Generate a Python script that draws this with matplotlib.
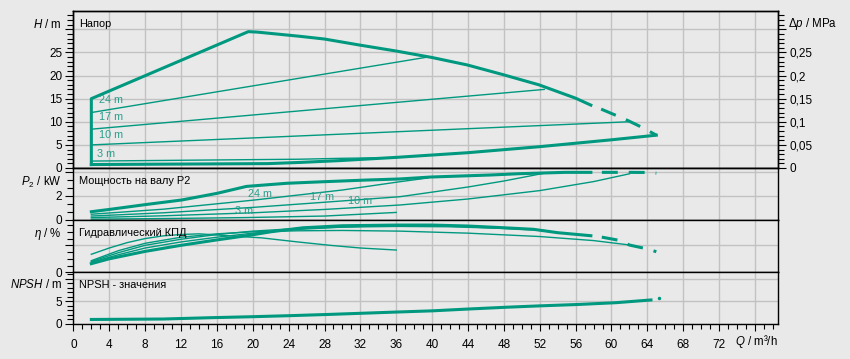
import numpy as np
import matplotlib.pyplot as plt
from matplotlib.ticker import MultipleLocator, FuncFormatter

# ---------------- data ----------------
# head H [m] vs Q [m3/h]
q_hmax = [2, 2, 19.5, 20.5, 25.2, 28, 31.9, 36, 40, 43.9, 47.9, 51.9, 56, 57.7]
h_hmax = [0.75, 15, 29.5, 29.4, 28.5, 27.9, 26.6, 25.3, 23.9, 22.3, 20.2, 18.0, 15.1, 13.6]
q_hmax_d = [57.7, 58.9, 60.6, 61.9, 63.5, 65]
h_hmax_d = [13.6, 12.7, 11.3, 10.2, 8.7, 7.1]
q_hmin = [2, 21.7, 25.2, 29.7, 36, 43.9, 51.9, 60, 65]
h_hmin = [0.75, 0.95, 1.2, 1.6, 2.3, 3.3, 4.6, 6.1, 7.1]
q_h24 = [2, 39.5]
h_h24 = [12, 24]
q_h17 = [2, 52.5]
h_h17 = [8.4, 17]
q_h10 = [2, 61.9]
h_h10 = [5, 10]
q_h3 = [2, 25.2, 30, 36]
h_h3 = [1.5, 1.9, 2.1, 2.25]

# shaft power P2 [kW]
q_pmax = [2, 4.1, 8.2, 12.1, 16, 19.3, 23.8, 27.9, 32.7, 36.4, 39.8, 46.5, 49.8, 54.8, 57.7]
p_pmax = [0.69, 0.89, 1.3, 1.67, 2.22, 2.8, 3.06, 3.19, 3.33, 3.42, 3.58, 3.75, 3.86, 3.97, 3.97]
q_pmax_d = [57.7, 60, 62, 64, 65]
p_pmax_d = [3.97, 3.97, 3.97, 3.96, 3.9]
q_p24 = [2, 10, 20, 30, 36.4, 39.5]
p_p24 = [0.48, 0.9, 1.65, 2.5, 3.19, 3.5]
q_p17 = [2, 10, 20, 28, 36.4, 44, 48, 52.5]
p_p17 = [0.33, 0.6, 1.05, 1.48, 1.94, 2.75, 3.25, 3.9]
q_p10 = [2, 10, 20, 28, 36.4, 44, 52, 58, 62]
p_p10 = [0.2, 0.35, 0.6, 0.88, 1.25, 1.75, 2.45, 3.2, 3.85]
q_p3 = [2, 10, 19, 28, 36]
p_p3 = [0.07, 0.12, 0.2, 0.33, 0.63]

# hydraulic efficiency [%]
q_emax = [2, 4, 8, 12, 16, 19.7, 22, 25.6, 30, 36, 40, 44, 48, 51.3, 54, 57.7]
e_emax = [12.8, 20, 31, 40, 48, 55, 60, 66, 69, 70, 70, 68.6, 66, 63.7, 58.7, 54.2]
q_emax_d = [57.7, 59, 61, 62, 64, 65]
e_emax_d = [54.2, 51.9, 47, 40.4, 34.6, 30.5]
q_e24 = [2, 5, 8, 12, 16, 20, 25, 30, 35, 39.5]
e_e24 = [14.8, 26, 36, 45, 52, 58, 63.5, 67, 69.5, 70]
q_e17 = [2, 5, 8, 12, 16, 20, 25, 30, 36, 42, 48, 52.5]
e_e17 = [16, 29, 40, 49, 56, 61, 65, 67, 68, 67.5, 65, 62]
q_e10 = [2, 5, 8, 12, 16, 20, 25, 30, 36.4, 44, 52, 58, 62]
e_e10 = [17.2, 32, 43, 52, 57, 60, 61.5, 62, 61, 58, 53, 47, 40.5]
q_e3 = [2, 4, 6, 8, 10, 12, 14, 17.5, 21, 25, 28.6, 32, 36]
e_e3 = [26.7, 36, 44, 50, 54, 56, 57, 54, 51, 45, 40, 36, 33]

# NPSH [m]
q_npsh = [2, 10, 15.5, 19.8, 24, 28.3, 31.9, 36.2, 40, 44, 48.3, 52, 56.2, 60.5, 64.4]
n_npsh = [1.0, 1.1, 1.4, 1.6, 1.83, 2.1, 2.35, 2.65, 2.9, 3.3, 3.7, 4.0, 4.3, 4.7, 5.3]
q_npsh_end = [65.3]
n_npsh_end = [5.65]

# ---------------- style ----------------
BG = "#e9e9e9"
GRID = "#c2c2c2"
CRV = "#00997f"
LBL = "#2a9e8b"

plt.rcParams['font.family'] = ['Liberation Sans', 'DejaVu Sans']
plt.rcParams['mathtext.fontset'] = 'custom'
plt.rcParams['mathtext.it'] = 'Liberation Sans:italic'
plt.rcParams['mathtext.rm'] = 'Liberation Sans'

W_PX, H_PX = 850, 359
fig = plt.figure(figsize=(8.5, 3.59), dpi=100, facecolor=BG)


def px(x, y):
    return x / W_PX, 1 - y / H_PX


def fmt_upto(top, comma=False):
    def f(v, pos):
        if v > top + 1e-6:
            return ""
        s = f"{v:g}"
        return s.replace(".", ",") if comma else s
    return FuncFormatter(f)


left, right = 73.4, 778.3
panels = [(11.3, 168.0), (168.0, 220.0), (220.0, 272.3), (272.3, 324.0)]
axes = []
for top, bot in panels:
    x0, y0 = px(left, bot)
    ax = fig.add_axes([x0, y0, (right - left) / W_PX, (bot - top) / H_PX],
                      sharex=axes[0] if axes else None)
    ax.set_facecolor(BG)
    ax.set_axisbelow(True)
    for s in ax.spines.values():
        s.set_color("black")
        s.set_linewidth(1.0)
    axes.append(ax)

axH, axP, axE, axN = axes
axH.set_xlim(0, 78.6)
axH.xaxis.set_major_locator(MultipleLocator(4))
axH.xaxis.set_minor_locator(MultipleLocator(1))
axH.xaxis.set_major_formatter(fmt_upto(72))

ylims = [(33.9, 5, 1, 25), (4.333, 2, 2 / 3, 2), (77.5, 40, 10, 0), (11.4, 5, 1, 5)]
for ax, (ymax, maj, mnr, lab_top) in zip(axes, ylims):
    ax.set_ylim(0, ymax)
    ax.yaxis.set_major_locator(MultipleLocator(maj))
    ax.yaxis.set_minor_locator(MultipleLocator(mnr))
    ax.yaxis.set_major_formatter(fmt_upto(lab_top))
    ax.grid(True, which="major", color=GRID, linewidth=1.0)
    ax.tick_params(axis="y", which="major", direction="out", length=6,
                   width=0.8, labelsize=8.5, pad=2)
    ax.tick_params(axis="y", which="minor", direction="out", length=4.5, width=0.8)
    if ax is not axN:
        ax.tick_params(axis="x", which="both", length=0, labelbottom=False)

axN.tick_params(axis="x", which="major", direction="out", length=5, width=0.8,
                labelsize=8.5, pad=6)
axN.tick_params(axis="x", which="minor", direction="out", length=3.5, width=0.8)

# right pressure axis
axR = axH.twinx()
axR.set_ylim(0, 0.339)
axR.yaxis.set_major_locator(MultipleLocator(0.05))
axR.yaxis.set_minor_locator(MultipleLocator(0.01))
axR.yaxis.set_major_formatter(fmt_upto(0.25, comma=True))
axR.tick_params(axis="y", which="major", direction="out", length=6, width=0.8,
                labelsize=8.5, pad=2)
axR.tick_params(axis="y", which="minor", direction="out", length=4.5, width=0.8)
for s in axR.spines.values():
    s.set_color("black")
    s.set_linewidth(1.0)

THICK, THIN = 2.2, 1.0
DASH = (5.2, (5.2, 3.6))

# ---------- head ----------
axH.plot(q_hmax, h_hmax, color=CRV, lw=THICK)
axH.plot(q_hmax_d, h_hmax_d, color=CRV, lw=THICK, ls=DASH)
axH.plot(q_hmin, h_hmin, color=CRV, lw=THICK)
for q, h in [(q_h24, h_h24), (q_h17, h_h17), (q_h10, h_h10), (q_h3, h_h3)]:
    axH.plot(q, h, color=CRV, lw=THIN)
for txt, q, h in [("24 m", 2.85, 14.7), ("17 m", 2.8, 11.0),
                  ("10 m", 2.8, 7.2), ("3 m", 2.6, 3.0)]:
    axH.text(q, h, txt, color=LBL, fontsize=7.8, va="center", ha="left")

# ---------- power ----------
axP.plot(q_pmax, p_pmax, color=CRV, lw=THICK)
axP.plot(q_pmax_d, p_pmax_d, color=CRV, lw=THICK, ls=DASH)
for q, p in [(q_p24, p_p24), (q_p17, p_p17), (q_p10, p_p10), (q_p3, p_p3)]:
    axP.plot(q, p, color=CRV, lw=THIN)
for txt, q, p in [("24 m", 19.45, 2.14), ("17 m", 26.4, 1.89),
                  ("10 m", 30.6, 1.58), ("3 m", 18.0, 0.75)]:
    axP.text(q, p, txt, color=LBL, fontsize=7.8, va="center", ha="left")

# ---------- efficiency ----------
axE.plot(q_emax, e_emax, color=CRV, lw=THICK)
axE.plot(q_emax_d, e_emax_d, color=CRV, lw=THICK, ls=DASH)
for q, e in [(q_e24, e_e24), (q_e17, e_e17), (q_e10, e_e10), (q_e3, e_e3)]:
    axE.plot(q, e, color=CRV, lw=THIN)

# ---------- NPSH ----------
axN.plot(q_npsh, n_npsh, color=CRV, lw=THICK)
axN.plot(q_npsh_end, n_npsh_end, "o", color=CRV, ms=1.5)

# ---------- axis labels / titles ----------
lab_kw = dict(fontsize=8.3, va="center")
fig.text(*px(62, 24), "$H$ / m", ha="right", **lab_kw)
fig.text(*px(62, 182), "$P_2$ / kW", ha="right", **lab_kw)
fig.text(*px(62, 234), "$\\eta$ / %", ha="right", **lab_kw)
fig.text(*px(62, 285), "$NPSH$ / m", ha="right", **lab_kw)
fig.text(*px(787.5, 24.5), "$\\Delta p$ / MPa", ha="left", **lab_kw)
fig.text(*px(778, 342), "$Q$ / m³/h", ha="right", **lab_kw)

title_kw = dict(fontsize=7.9, va="center", ha="left")
for y, t in [(24, "Напор"), (181, "Мощность на валу P2"),
             (233, "Гидравлический КПД"), (285, "NPSH - значения")]:
    fig.text(*px(79, y), t, **title_kw)

fig.savefig("out.png", dpi=100, facecolor=BG)
